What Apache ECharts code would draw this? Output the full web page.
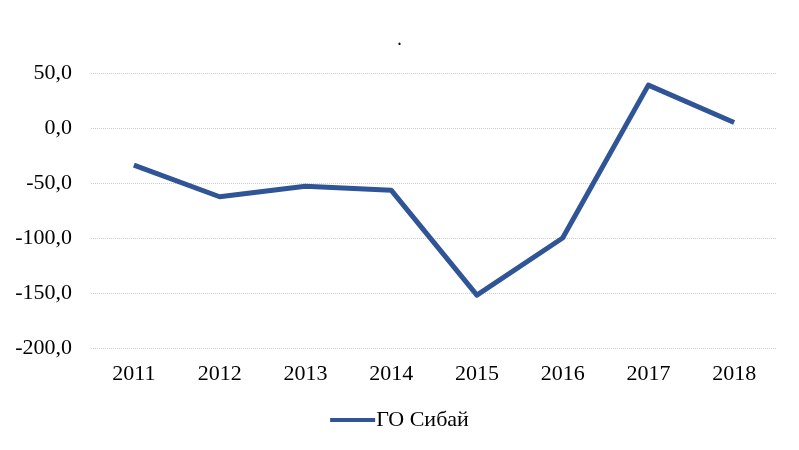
<!DOCTYPE html>
<html><head><meta charset="utf-8">
<script src="https://cdn.jsdelivr.net/npm/echarts@6/dist/echarts.min.js"></script>
<style>html,body{margin:0;padding:0;background:#fff}#c{width:799px;height:450px}</style>
</head><body><div id="c"></div>
<script>
var categories = ['2011','2012','2013','2014','2015','2016','2017','2018'];
var seriesName = 'ГО Сибай';
var values = [-33.8, -62.5, -53.0, -56.5, -152.0, -100.0, 39.0, 5.0];
var chartTitle = '.';

var font = 'Liberation Serif, Times New Roman, serif';
var chart = echarts.init(document.getElementById('c'));
chart.setOption({
  animation: false,
  title: { text: chartTitle, left: 'center', top: 29, textStyle: { fontFamily: font, fontSize: 14, fontWeight: 'bold', color: '#000' } },
  grid: { left: 91, right: 22, top: 73, bottom: 102 },
  legend: {
    top: 404, left: 'center',
    itemWidth: 45, itemHeight: 14, itemGap: 10,
    icon: 'path://M0,5 L45,5 L45,9 L0,9 Z',
    textStyle: { fontFamily: font, fontSize: 22, color: '#000', padding: [0, 0, 0, -4] },
    data: [seriesName]
  },
  xAxis: {
    type: 'category', data: categories, boundaryGap: true,
    axisLine: { show: false }, axisTick: { show: false },
    axisLabel: { fontFamily: font, fontSize: 22, color: '#000', margin: 15 }
  },
  yAxis: {
    type: 'value', min: -200, max: 50, interval: 50,
    axisLine: { show: false }, axisTick: { show: false },
    axisLabel: { fontFamily: font, fontSize: 22, color: '#000', margin: 19,
      formatter: function (v) { return v.toFixed(1).replace('.', ','); } },
    splitLine: { lineStyle: { color: '#cccccc', width: 1, type: [1, 1] } }
  },
  series: [{
    name: seriesName, type: 'line', data: values,
    symbol: 'none', lineStyle: { color: '#2f5597', width: 5, join: 'round' },
    itemStyle: { color: '#2f5597' }
  }]
});
</script></body></html>
